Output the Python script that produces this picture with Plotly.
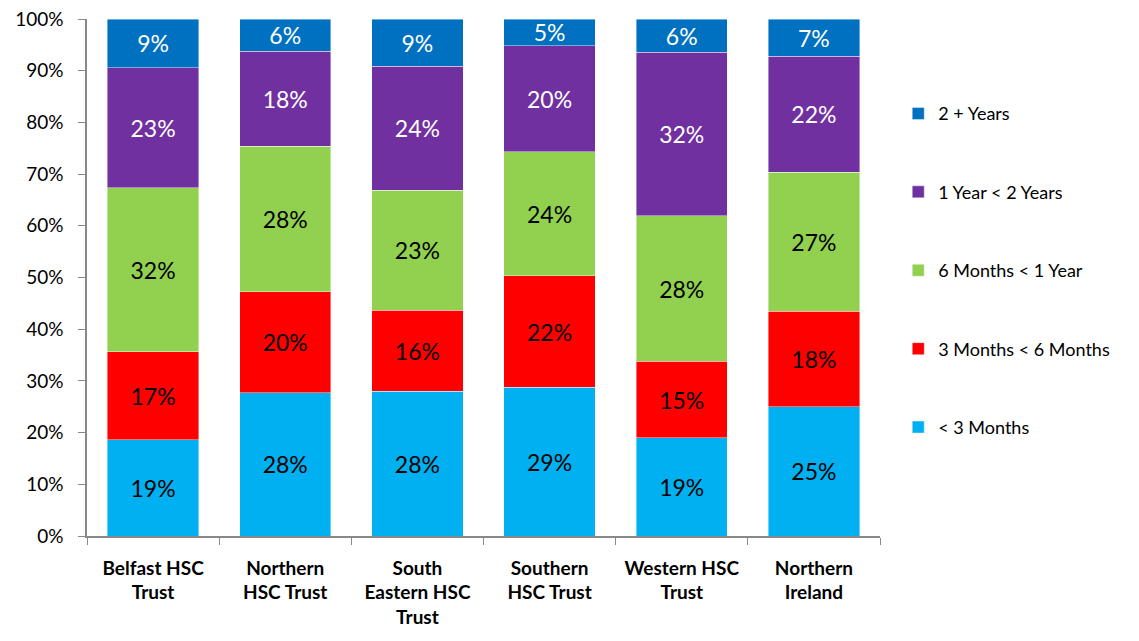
import plotly.graph_objects as go

categories = ["Belfast HSC<br>Trust", "Northern<br>HSC Trust", "South<br>Eastern HSC<br>Trust",
              "Southern<br>HSC Trust", "Western HSC<br>Trust", "Northern<br>Ireland"]

lt_3_months = [18.6, 27.7, 28.0, 28.8, 19.0, 25.0]
m3_to_6 = [17.0, 19.5, 15.7, 21.5, 14.8, 18.5]
m6_to_1y = [31.8, 28.2, 23.2, 24.0, 28.1, 26.9]
y1_to_2 = [23.2, 18.4, 24.0, 20.5, 31.7, 22.4]
y2_plus = [9.4, 6.2, 9.1, 5.2, 6.4, 7.2]

series = [
    ("< 3 Months", lt_3_months, "#00B0F0", "black"),
    ("3 Months < 6 Months", m3_to_6, "#FF0000", "black"),
    ("6 Months < 1 Year", m6_to_1y, "#92D050", "black"),
    ("1 Year < 2 Years", y1_to_2, "#7030A0", "white"),
    ("2 + Years", y2_plus, "#0070C0", "white"),
]

FONT = "Lato, 'Open Sans', sans-serif"

fig = go.Figure()
for i, (name, vals, color, tcolor) in enumerate(series):
    fig.add_trace(go.Bar(
        x=categories, y=[v / 100 for v in vals], name=name, legendgroup=name,
        legendrank=len(series) - i,
        marker=dict(color=color, line=dict(color="rgba(255,255,255,0.6)", width=0.7)),
        text=[f"{round(v):d}%" for v in vals],
        textposition="inside", insidetextanchor="middle",
        textfont=dict(family=FONT, size=23, color=tcolor),
        constraintext="none",
    ))

fig.update_layout(
    barmode="stack", bargap=0.31,
    width=1139, height=641,
    margin=dict(l=79, r=267, t=11, b=113),
    plot_bgcolor="white", paper_bgcolor="white",
    font=dict(family=FONT, color="black"),
    legend=dict(x=1.023, xanchor="left", y=0.514, yanchor="middle",
                traceorder="grouped", tracegroupgap=52,
                font=dict(family=FONT, size=18), itemwidth=30),
)
fig.update_yaxes(range=[0, 1], tickformat=".0%", dtick=0.1, showgrid=False,
                 showline=True, linecolor="#888888", linewidth=1.5,
                 ticks="outside", ticklen=7, tickcolor="#888888",
                 tickfont=dict(family=FONT, size=19), zeroline=False, automargin=False,
                 ticklabelstandoff=11, ticklabeloverflow="allow")
fig.update_xaxes(showline=True, linecolor="#888888", linewidth=1.5,
                 ticks="outside", ticklen=7, tickcolor="#888888", tickson="boundaries",
                 tickfont=dict(family=FONT, size=19, color="black", weight="bold"),
                 ticklabelstandoff=14, automargin=False, ticklabeloverflow="allow")

fig.write_html("out.html")
